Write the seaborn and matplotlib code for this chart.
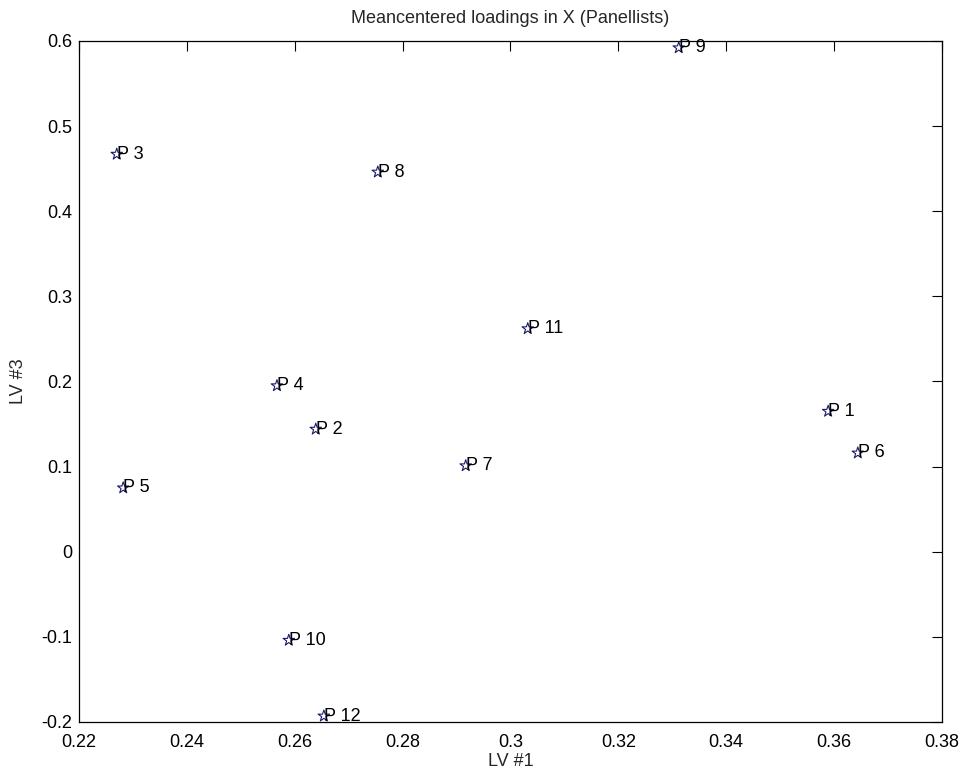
import matplotlib
matplotlib.use("Agg")
import matplotlib.pyplot as plt
import seaborn as sns
import pandas as pd

# Panellist loadings on latent variables LV #1 and LV #3
panellists = ["P 1", "P 2", "P 3", "P 4", "P 5", "P 6",
              "P 7", "P 8", "P 9", "P 10", "P 11", "P 12"]
lv1 = [0.3589, 0.2639, 0.2270, 0.2567, 0.2282, 0.3644,
       0.2917, 0.2754, 0.3312, 0.2589, 0.3032, 0.2654]
lv3 = [0.165, 0.144, 0.467, 0.195, 0.075, 0.116,
       0.101, 0.446, 0.592, -0.104, 0.262, -0.193]

x_ticks = [0.22, 0.24, 0.26, 0.28, 0.30, 0.32, 0.34, 0.36, 0.38]
x_tick_labels = ["0.22", "0.24", "0.26", "0.28", "0.3", "0.32", "0.34", "0.36", "0.38"]
y_ticks = [-0.2, -0.1, 0.0, 0.1, 0.2, 0.3, 0.4, 0.5, 0.6]
y_tick_labels = ["-0.2", "-0.1", "0", "0.1", "0.2", "0.3", "0.4", "0.5", "0.6"]

df = pd.DataFrame({"panellist": panellists, "lv1": lv1, "lv3": lv3})

sns.set_style("white")
plt.rcParams["font.family"] = ["Liberation Sans", "DejaVu Sans"]

FS = 13

fig = plt.figure(figsize=(9.67, 7.76), dpi=100)
ax = fig.add_axes([0.0817, 0.0696, 0.8924, 0.8776])

sns.scatterplot(data=df, x="lv1", y="lv3", ax=ax, marker="*", s=75,
                facecolor="none", edgecolor="#1a1a6e", linewidth=0.8,
                legend=False, zorder=3)

for name, x, y in zip(df["panellist"], df["lv1"], df["lv3"]):
    ax.text(x, y, name, fontsize=FS, ha="left", va="center",
            color="black", zorder=4)

ax.set_xlim(0.22, 0.38)
ax.set_ylim(-0.2, 0.6)
ax.set_xticks(x_ticks)
ax.set_xticklabels(x_tick_labels)
ax.set_yticks(y_ticks)
ax.set_yticklabels(y_tick_labels)

ax.tick_params(direction="in", length=7, width=0.8, labelsize=FS,
               top=True, right=True, colors="black")
ax.tick_params(axis="x", pad=9)
ax.tick_params(axis="y", pad=5)
for spine in ax.spines.values():
    spine.set_visible(True)
    spine.set_color("black")
    spine.set_linewidth(0.9)

ax.set_xlabel("LV #1", fontsize=FS, labelpad=1)
ax.set_ylabel("LV #3", fontsize=FS, labelpad=10)
ax.set_title("Meancentered loadings in X (Panellists)", fontsize=FS, pad=13)

fig.savefig("out.png", dpi=100)
